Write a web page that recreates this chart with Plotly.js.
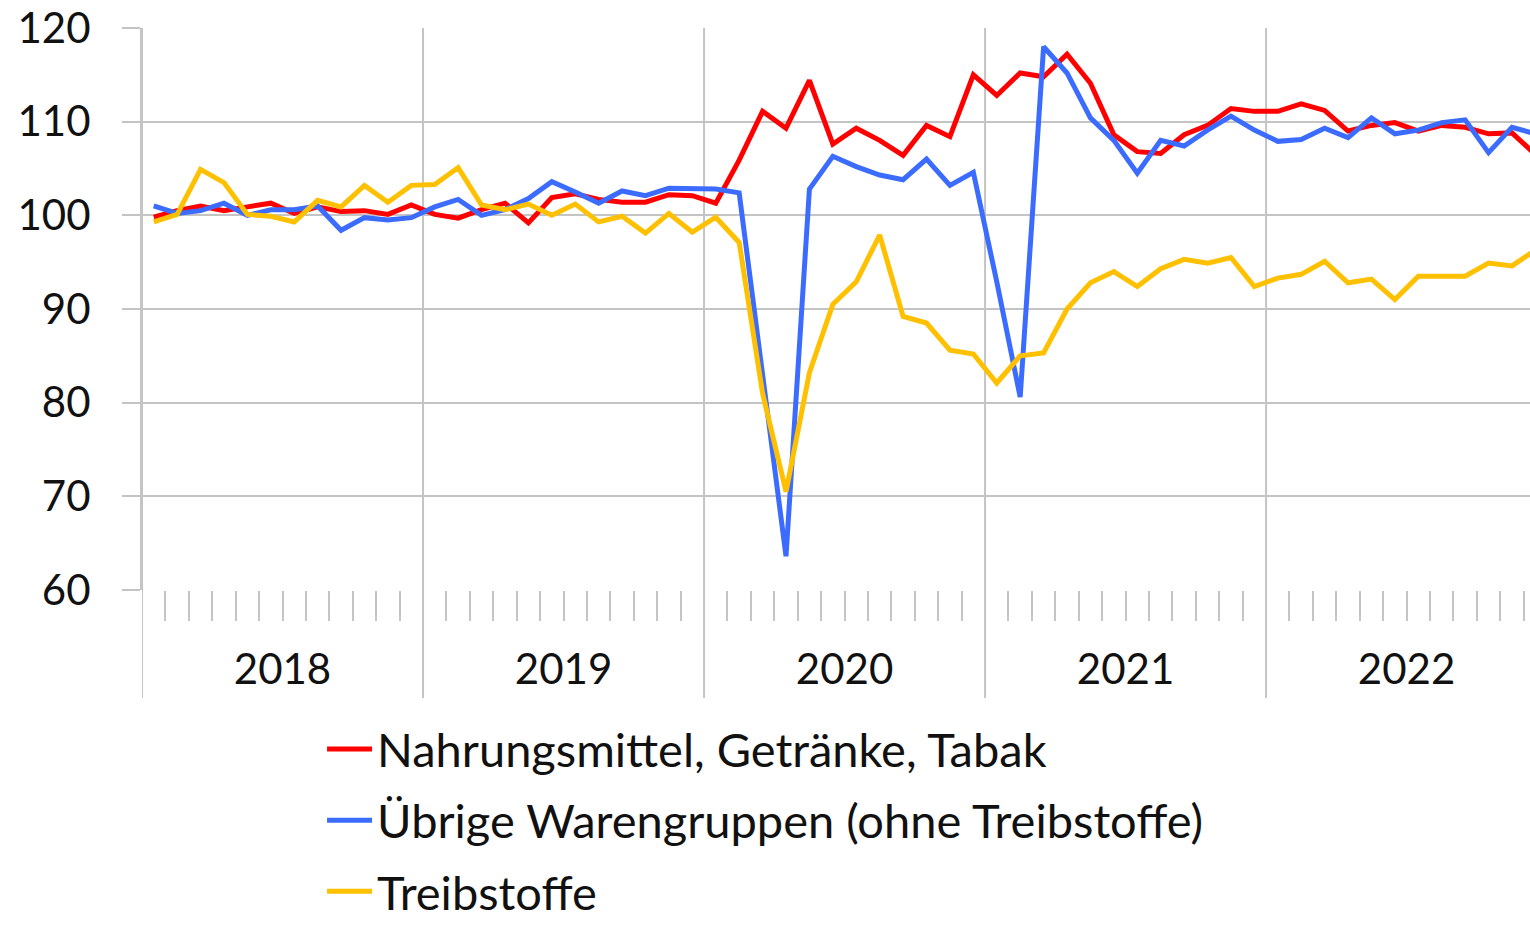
<!DOCTYPE html>
<html>
<head>
<meta charset="utf-8">
<script src="https://cdn.plot.ly/plotly-3.0.1.min.js"></script>
<style>html,body{margin:0;padding:0;background:#fff;}#chart{width:1530px;height:929px;}</style>
</head>
<body>
<div id="chart"></div>
<script>
// Monthly index values, Jan 2018 – Dec 2022
const years = ['2018', '2019', '2020', '2021', '2022'];
const seriesNames = ['Nahrungsmittel, Getränke, Tabak', 'Übrige Warengruppen (ohne Treibstoffe)', 'Treibstoffe'];

const nahrung = [99.8, 100.5, 101.0, 100.5, 100.9, 101.3, 100.2, 100.9, 100.4, 100.5, 100.1, 101.1,
  100.1, 99.7, 100.6, 101.3, 99.2, 101.9, 102.3, 101.7, 101.4, 101.4, 102.2, 102.1,
  101.3, 105.9, 111.1, 109.3, 114.4, 107.6, 109.3, 108.0, 106.4, 109.6, 108.4, 115.0,
  112.8, 115.2, 114.8, 117.2, 114.1, 108.6, 106.8, 106.6, 108.6, 109.6, 111.4, 111.1,
  111.1, 111.9, 111.2, 109.0, 109.6, 109.9, 109.0, 109.6, 109.4, 108.7, 108.8, 106.5];

const uebrige = [101.0, 100.2, 100.5, 101.3, 100.0, 100.6, 100.6, 101.0, 98.4, 99.75, 99.5, 99.75,
  100.9, 101.7, 100.0, 100.6, 101.8, 103.6, 102.5, 101.3, 102.6, 102.1, 102.9, 102.9,
  102.8, 102.4, 83.0, 63.6, 102.8, 106.3, 105.2, 104.3, 103.8, 106.0, 103.2, 104.6,
  92.9, 80.6, 118.0, 115.2, 110.4, 108.0, 104.5, 108.0, 107.4, 109.1, 110.6, 109.1,
  107.9, 108.1, 109.3, 108.3, 110.4, 108.7, 109.1, 109.9, 110.2, 106.7, 109.4, 108.7];

const treibstoffe = [99.3, 100.1, 104.9, 103.5, 100.1, 99.9, 99.3, 101.6, 100.9, 103.2, 101.4, 103.2,
  103.3, 105.1, 101.1, 100.6, 101.2, 100.0, 101.2, 99.3, 99.9, 98.1, 100.2, 98.2,
  99.8, 97.1, 81.0, 70.5, 83.2, 90.5, 92.9, 97.9, 89.2, 88.5, 85.6, 85.2,
  82.1, 85.0, 85.3, 90.0, 92.8, 94.0, 92.4, 94.3, 95.3, 94.9, 95.5, 92.4,
  93.3, 93.7, 95.1, 92.8, 93.2, 91.0, 93.5, 93.5, 93.5, 94.9, 94.6, 96.3];

const yTicks = [60, 70, 80, 90, 100, 110, 120];
const colors = ['#ff0000', '#3b6cff', '#ffc000'];

const FONT = 'Lato, Carlito, Calibri, "Liberation Sans", sans-serif';
const GRID = '#c4c4c4';

// month centres on a numeric axis: month i occupies [i, i+1]
const xs = nahrung.map((_, i) => i + 0.5);
const allData = [nahrung, uebrige, treibstoffe];

const traces = allData.map((ys, k) => ({
  type: 'scatter', mode: 'lines', x: xs, y: ys, name: seriesNames[k],
  legendgroup: 'g' + k,
  line: {color: colors[k], width: 5, shape: 'linear'},
  cliponaxis: true
}));

const nMonths = years.length * 12;
const monthBounds = [];
for (let i = 1; i < nMonths; i++) if (i % 12 !== 0) monthBounds.push(i);

const shapes = [];
for (let y = 0; y < years.length; y++) {
  shapes.push({type: 'line', xref: 'x', yref: 'paper', x0: y * 12, x1: y * 12, y0: -0.192, y1: 1,
    line: {color: GRID, width: 2}, layer: 'below'});
}

const layout = {
  width: 1530, height: 929,
  margin: {l: 142, r: 0, t: 28, b: 339, autoexpand: false},
  paper_bgcolor: '#fff', plot_bgcolor: '#fff',
  font: {family: FONT, color: '#111', size: 42},
  showlegend: true,
  legend: {xref: 'container', yref: 'container', x: 0.2105, xanchor: 'left', y: 0.0, yanchor: 'bottom', orientation: 'v',
    font: {family: FONT, size: 47, color: '#111'}, tracegroupgap: 7, itemwidth: 45,
    bgcolor: 'rgba(0,0,0,0)'},
  xaxis: {
    range: [0, 59.27], showgrid: false, zeroline: false, showline: false,
    tickmode: 'array', tickvals: years.map((_, i) => i * 12 + 6), ticktext: years,
    ticks: '', ticklabelstandoff: 51,
    tickfont: {family: FONT, size: 42, color: '#111'},
    minor: {tickmode: 'array', tickvals: monthBounds, ticks: 'outside', ticklen: 30, tickwidth: 2, tickcolor: GRID, showgrid: false}
  },
  yaxis: {
    range: [60, 120], tickmode: 'array', tickvals: yTicks, ticktext: yTicks.map(String),
    showgrid: true, gridcolor: GRID, gridwidth: 2, zeroline: false,
    showline: true, linecolor: GRID, linewidth: 2,
    ticks: 'outside', ticklen: 18, tickwidth: 2, tickcolor: GRID,
    ticklabelstandoff: 23,
    tickfont: {family: FONT, size: 42, color: '#111'}
  },
  shapes: shapes
};

Plotly.newPlot('chart', traces, layout, {staticPlot: true, displayModeBar: false});
</script>
</body>
</html>
